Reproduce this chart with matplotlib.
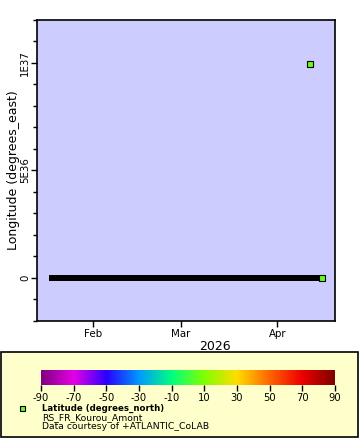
import matplotlib
matplotlib.use("Agg")
import matplotlib.pyplot as plt
import matplotlib.dates as mdates
from matplotlib.colors import LinearSegmentedColormap, Normalize
from matplotlib.patches import Rectangle
from matplotlib.ticker import MultipleLocator, FixedLocator
import numpy as np
import pandas as pd

# ---- data ----
zero_times = pd.to_datetime(["2026-01-18 00:00", "2026-04-15 10:00"])
zero_lon = [0.0, 0.0]
outlier_time = pd.to_datetime(["2026-04-11 12:00"])
outlier_lon = [9.96921e36]
last_time = pd.to_datetime(["2026-04-15 10:00"])
last_lon = [0.0]
point_lat = [5.2]

cb_ticks = [-90, -70, -50, -30, -10, 10, 30, 50, 70, 90]
cb_colors = ["#800080", "#e600e6", "#2a00ff", "#0099ff", "#00ff80",
             "#80ff00", "#ffdd00", "#ff6600", "#ee0000", "#800000"]

xlim = pd.to_datetime(["2026-01-14 00:00", "2026-04-19 12:00"])
ylim = (-2e36, 1.2e37)

plt.rcParams['font.family'] = ['DejaVu Sans']
plt.rcParams['axes.unicode_minus'] = False
W, H = 360, 440
fig = plt.figure(figsize=(W/100, H/100), dpi=100)

def box(x0, y0, x1, y1):
    return [x0/W, 1 - y1/H, (x1-x0)/W, (y1-y0)/H]

cmap = LinearSegmentedColormap.from_list(
    "erddap", [((t+90)/180, c) for t, c in zip(cb_ticks, cb_colors)])
norm = Normalize(-90, 90)

ax = fig.add_axes(box(37, 20, 335, 321))
ax.set_facecolor("#ccccff")
ax.plot(zero_times, zero_lon, color="black", lw=4.3, solid_capstyle="butt", zorder=2)
ax.plot(outlier_time, outlier_lon, ls="none", marker="s", ms=4.6,
        mfc=cmap(norm(point_lat[0])), mec="black", mew=0.8, zorder=3)
ax.plot(last_time, last_lon, ls="none", marker="s", ms=4.6,
        mfc=cmap(norm(point_lat[0])), mec="black", mew=0.8, zorder=3)
ax.set_xlim(xlim[0], xlim[1])
ax.set_ylim(*ylim)
ax.xaxis.set_major_locator(mdates.MonthLocator())
ax.xaxis.set_major_formatter(mdates.DateFormatter("%b"))
ax.yaxis.set_major_locator(FixedLocator([0, 5e36, 1e37]))
ax.yaxis.set_major_formatter(plt.FuncFormatter(
    lambda v, p: {0: "0", 5e36: "5E36", 1e37: "1E37"}.get(v, "")))
ax.yaxis.set_minor_locator(MultipleLocator(1e36))
ax.yaxis.get_offset_text().set_visible(False)
ax.tick_params(axis="both", which="major", length=4, width=1, labelsize=7.4)
ax.tick_params(axis="x", which="major", pad=1.5)
ax.tick_params(axis="y", which="major", pad=1)
ax.tick_params(axis="y", which="minor", length=3, width=1)
for lbl in ax.get_yticklabels():
    lbl.set_rotation(90)
    lbl.set_va("center")
for s in ax.spines.values():
    s.set_linewidth(1.2)
ax.set_xlabel("2026", fontsize=9)
ax.xaxis.set_label_coords((215-37)/298, -(347-321)/301)
ax.xaxis.label.set_va("center")
ax.set_ylabel("Longitude (degrees_east)", fontsize=9)
ax.yaxis.set_label_coords(-(37-14)/298, 0.5)
ax.yaxis.label.set_va("center")

# legend box
lax = fig.add_axes([0, 0, 1, 1], facecolor="none")
lax.set_xlim(0, W); lax.set_ylim(H, 0); lax.axis("off")
lax.add_patch(Rectangle((1, 352), 356.5, 85.5, facecolor="#ffffcc", edgecolor="black", lw=1.2))
lax.add_patch(Rectangle((19.5, 406), 5, 5, facecolor=cmap(norm(point_lat[0])), edgecolor="black", lw=0.8))
lax.text(42, 408.5, "Latitude (degrees_north)", fontsize=6.2, fontweight="bold", va="center", ha="left")
lax.text(42, 417.5, "RS_FR_Kourou_Amont", fontsize=6.7, va="center", ha="left")
lax.text(42, 426.5, "Data courtesy of +ATLANTIC_CoLAB", fontsize=6.7, va="center", ha="left")

cax = fig.add_axes(box(41, 370, 335, 385))
grad = np.linspace(-90, 90, 512).reshape(1, -1)
cax.imshow(grad, aspect="auto", cmap=cmap, norm=norm, extent=(-90, 90, 0, 1))
cax.set_xlim(-90, 90)
cax.set_yticks([])
cax.set_xticks(cb_ticks)
cax.tick_params(axis="x", length=4, width=1, labelsize=7.2, pad=1.5)
for s in cax.spines.values():
    s.set_visible(False)

fig.savefig("out.png", dpi=100)
